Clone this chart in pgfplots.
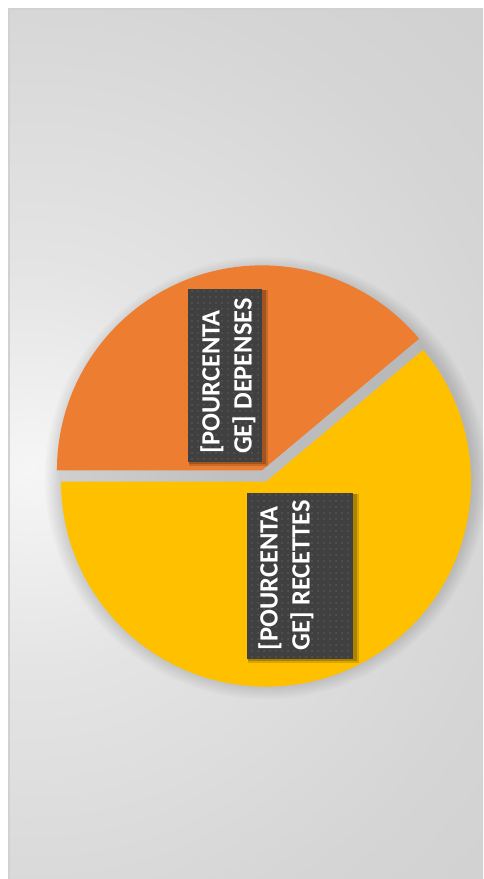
\documentclass[border=0pt]{standalone}
\usepackage{pgfplots}
\pgfplotsset{compat=1.18}
\usepackage{pgfplotstable}
\usepackage{fontspec}
\setmainfont{Carlito}
\usetikzlibrary{patterns}
\definecolor{depenses}{HTML}{ED7D31}
\definecolor{recettes}{HTML}{FFC000}
\definecolor{lblbox}{HTML}{404040}
\definecolor{bg0}{HTML}{F6F6F6}
\definecolor{bg1}{HTML}{E4E4E4}
\definecolor{bg2}{HTML}{D5D5D5}
\definecolor{bg3}{HTML}{CCCCCC}
\definecolor{bg4}{HTML}{C6C6C6}
\definecolor{bg5}{HTML}{BBBBBB}
\pgfdeclareradialshading{bgshade}{\pgfpoint{0bp}{0bp}}{%
 color(0bp)=(bg0); color(7.7bp)=(bg1); color(19bp)=(bg2); color(31bp)=(bg3); color(38.5bp)=(bg4); color(50bp)=(bg5)}
\pgfplotstableread{
label value
DEPENSES 38.9
RECETTES 61.1
}\piedata
\pgfplotstablegetelem{0}{value}\of\piedata \let\vA\pgfplotsretval
\pgfplotstablegetelem{1}{value}\of\piedata \let\vB\pgfplotsretval
\pgfmathsetmacro\total{\vA+\vB}
\pgfmathsetmacro\fA{\vA/\total}
\pgfmathsetmacro\fB{\vB/\total}
\pgfmathsetmacro\sA{180}
\pgfmathsetmacro\eA{180-360*\fA}
\pgfmathsetmacro\eB{\eA-360*\fB}
\pgfmathsetmacro\mA{(\sA+\eA)/2}
\pgfmathsetmacro\mB{(\eA+\eB)/2}
\begin{document}
\begin{tikzpicture}
\path[use as bounding box] (0,0) rectangle (241.5pt,-439.5pt);
\fill[white] (0,0) rectangle (241.5pt,-439.5pt);
\begin{scope}
\clip (4.3pt,-4.3pt) rectangle (241.5pt,-439.5pt);
\shade[shading=bgshade] (15pt,-235pt) circle (325pt);
\end{scope}
\draw[black!18, line width=0.6pt] (4.5pt,-439.5pt) -- (4.5pt,-4.5pt) -- (241.5pt,-4.5pt);
% soft shadow of the pie
\foreach \i in {1,...,9} \fill[black, opacity=0.014] (133pt,-239pt) circle ({102.5pt+\i*0.9pt});
\begin{axis}[hide axis, clip=false, x=0.5pt, y=0.5pt,
  xmin=-240, xmax=240, ymin=-240, ymax=240,
  anchor=origin, at={(132pt,-238pt)}]
\fill[depenses] (axis cs:{6*cos(\mA)},{6*sin(\mA)}) -- (axis cs:{6*cos(\mA)+205*cos(\sA)},{6*sin(\mA)+205*sin(\sA)}) arc[start angle=\sA, end angle=\eA, radius=102.5pt] -- cycle;
\fill[recettes] (axis cs:{6*cos(\mB)},{6*sin(\mB)}) -- (axis cs:{6*cos(\mB)+205*cos(\eA)},{6*sin(\mB)+205*sin(\eA)}) arc[start angle=\eA, end angle=\eB, radius=102.5pt] -- cycle;
% label boxes with soft shadow
\fill[black, opacity=0.15] (axis cs:-75,186) rectangle (axis cs:4,10);
\fill[black, opacity=0.2] (axis cs:-75,186) rectangle (axis cs:2,12);
\fill[lblbox, postaction={pattern=dots, pattern color=white!12!lblbox}] (axis cs:-76,187) rectangle (axis cs:-2,14);
\fill[black, opacity=0.15] (axis cs:-16,-18) rectangle (axis cs:95,-187);
\fill[black, opacity=0.2] (axis cs:-16,-18) rectangle (axis cs:93,-185);
\fill[lblbox, postaction={pattern=dots, pattern color=white!12!lblbox}] (axis cs:-17,-17) rectangle (axis cs:89,-183);
\node[rotate=90, align=left, text=white, inner sep=0pt, font=\fontsize{13.2}{16}\selectfont\bfseries] at (axis cs:-36,100) {[POURCENTA\\GE] DEPENSES};
\node[rotate=90, align=left, text=white, inner sep=0pt, font=\fontsize{13.2}{16}\selectfont\bfseries] at (axis cs:22,-99) {[POURCENTA\\GE] RECETTES};
\end{axis}
\end{tikzpicture}
\end{document}
